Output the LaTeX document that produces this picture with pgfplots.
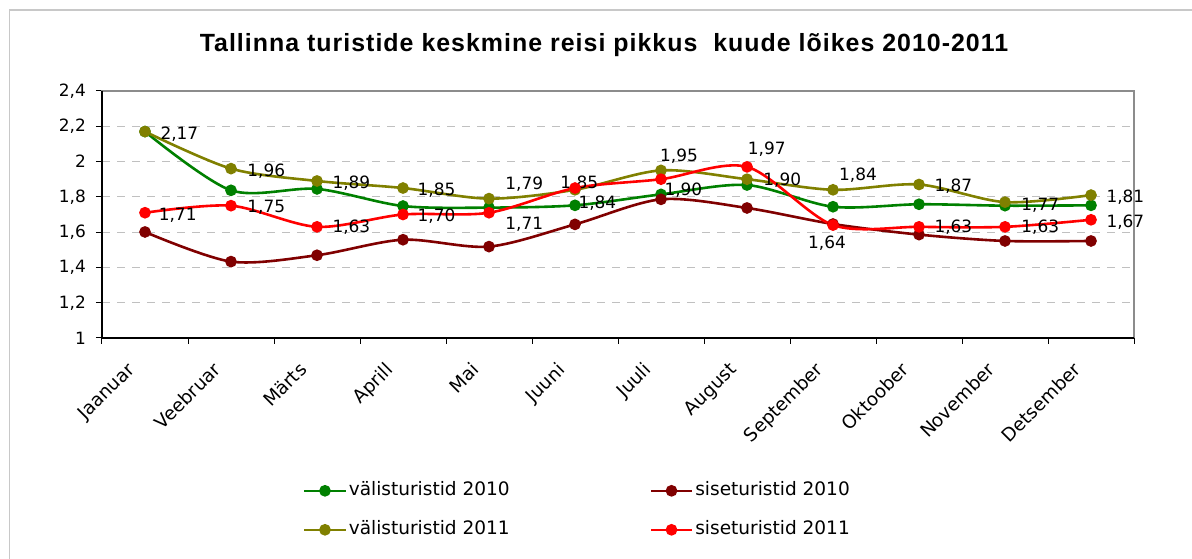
\documentclass[border=0pt]{standalone}
\usepackage{pgfplots}
\pgfplotsset{compat=1.18}
\usepackage{fontspec}
\setmainfont{DejaVu Sans}
\newfontfamily\titlefont[LetterSpace=4.1]{Liberation Sans}
\definecolor{cgreen}{RGB}{0,128,0}
\definecolor{cdred}{RGB}{128,0,0}
\definecolor{colive}{RGB}{128,128,0}
\definecolor{cred}{RGB}{255,0,0}
\definecolor{cgrid}{RGB}{192,192,192}
\definecolor{cframe}{RGB}{200,200,200}
\definecolor{cbox}{RGB}{140,140,140}
\begin{document}
\begin{tikzpicture}[x=1bp,y=1bp]
\begin{axis}[
  scale only axis, width=1032bp, height=247bp,
  xmin=-0.5, xmax=11.5, ymin=1, ymax=2.4,
  clip=false,
  axis line style={cbox, line width=1.5bp},
  tick pos=left, tick align=outside, major tick length=6bp,
  ytick={1,1.2,1.4,1.6,1.8,2,2.2,2.4},
  yticklabels={1,{1,2},{1,4},{1,6},{1,8},2,{2,2},{2,4}},
  ytick style={black, line width=1bp},
  xtick={0,1,2,3,4,5,6,7,8,9,10,11},
  xticklabels={Jaanuar,Veebruar,Märts,Aprill,Mai,Juuni,Juuli,August,September,Oktoober,November,Detsember},
  xtick style={draw=none},
  extra x ticks={-0.5,0.5,1.5,2.5,3.5,4.5,5.5,6.5,7.5,8.5,9.5,10.5,11.5},
  extra x tick labels={},
  extra x tick style={xtick style={draw=black, line width=1bp}},
  yticklabel style={font=\fontsize{17}{20}\selectfont, anchor=east, inner sep=0pt, xshift=-10bp},
  xticklabel style={font=\fontsize{18.5}{22}\selectfont, xshift=-19bp, yshift=-17bp, rotate=45, anchor=north east, inner sep=0pt},
  ymajorgrids, grid style={cgrid, line width=1.2bp, dash pattern=on 8bp off 7bp},
  every axis plot/.append style={smooth, line width=2.6bp, mark=*, mark size=4.5bp},
  legend columns=2,
  legend style={at={(0.19477,-0.5733)}, anchor=north west, draw=none, fill=none, inner sep=0pt,
    font=\fontsize{18.6}{22}\selectfont, row sep=17bp,
    nodes={inner sep=2bp, text height=14bp, text depth=4bp},
    /tikz/every odd column/.append style={column sep=0bp},
    /tikz/every even column/.append style={column sep=138bp}},
  legend cell align=left,
  legend image code/.code={\draw[mark repeat=2,mark phase=2,#1] plot coordinates {(0bp,0bp) (20.5bp,0bp) (41bp,0bp)};},
]
\addplot[cgreen, mark options={fill=cgreen, draw=cgreen}] coordinates {
(0,2.17) (1,1.837) (2,1.845) (3,1.748) (4,1.739) (5,1.752) (6,1.814) (7,1.867) (8,1.744) (9,1.758) (10,1.75) (11,1.752)};
\addlegendentry{välisturistid 2010}
\addplot[cdred, mark options={fill=cdred, draw=cdred}] coordinates {
(0,1.601) (1,1.433) (2,1.469) (3,1.557) (4,1.518) (5,1.644) (6,1.786) (7,1.737) (8,1.646) (9,1.586) (10,1.55) (11,1.55)};
\addlegendentry{siseturistid 2010}
\addplot[colive, mark options={fill=colive, draw=colive}] coordinates {
(0,2.17) (1,1.96) (2,1.89) (3,1.85) (4,1.79) (5,1.84) (6,1.95) (7,1.90) (8,1.84) (9,1.87) (10,1.77) (11,1.81)};
\addlegendentry{välisturistid 2011}
\addplot[cred, mark options={fill=cred, draw=cred}] coordinates {
(0,1.71) (1,1.75) (2,1.63) (3,1.70) (4,1.71) (5,1.85) (6,1.90) (7,1.97) (8,1.64) (9,1.63) (10,1.63) (11,1.67)};
\addlegendentry{siseturistid 2011}
\draw[black, line width=1.2bp] (rel axis cs:0,1) -- (rel axis cs:0,0) -- (rel axis cs:1,0);
\coordinate (O) at (rel axis cs:0,0);
\begin{scope}[every node/.style={font=\fontsize{17}{20}\selectfont, inner sep=0pt}]
\node at (axis cs:0.40,2.156) {2,17};
\node at (axis cs:1.41,1.948) {1,96};
\node at (axis cs:2.40,1.880) {1,89};
\node at (axis cs:3.39,1.839) {1,85};
\node at (axis cs:4.41,1.873) {1,79};
\node at (axis cs:5.05,1.880) {1,85};
\node at (axis cs:0.38,1.697) {1,71};
\node at (axis cs:1.41,1.739) {1,75};
\node at (axis cs:2.40,1.627) {1,63};
\node at (axis cs:3.39,1.690) {1,70};
\node at (axis cs:4.41,1.646) {1,71};
\node at (axis cs:5.26,1.763) {1,84};
\node at (axis cs:6.21,2.032) {1,95};
\node at (axis cs:6.26,1.839) {1,90};
\node at (axis cs:7.23,2.071) {1,97};
\node at (axis cs:7.41,1.892) {1,90};
\node at (axis cs:8.29,1.920) {1,84};
\node at (axis cs:7.93,1.537) {1,64};
\node at (axis cs:9.40,1.858) {1,87};
\node at (axis cs:9.40,1.627) {1,63};
\node at (axis cs:10.41,1.754) {1,77};
\node at (axis cs:10.41,1.627) {1,63};
\node at (axis cs:11.40,1.797) {1,81};
\node at (axis cs:11.40,1.659) {1,67};
\end{scope}
\end{axis}
\pgfresetboundingbox
\begin{scope}[shift={(O)}]
\useasboundingbox (-102,-221) rectangle (1090,338);
\draw[cframe, line width=1.5bp] (-92.5,328) rectangle (1160,-290);
\node[anchor=base, font=\titlefont\bfseries\fontsize{25}{30}\selectfont] at (502,286.3) {Tallinna turistide keskmine reisi pikkus\ \ kuude lõikes 2010-2011};
\end{scope}
\end{tikzpicture}
\end{document}
